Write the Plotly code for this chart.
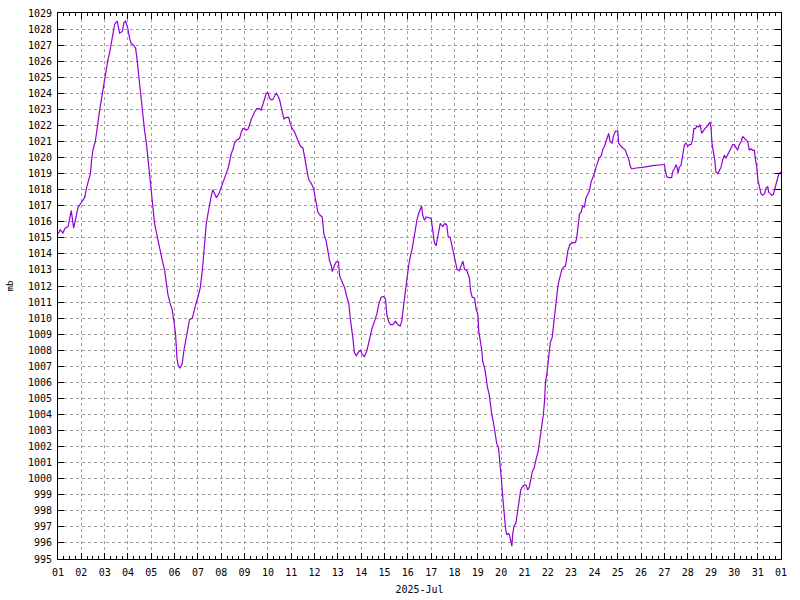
import plotly.graph_objects as go

# Fractional day of July 2025 (1.0 = 01 Jul 00:00, 32.0 = 01 Aug 00:00)
day = [
    1.00, 1.10, 1.21, 1.30, 1.43, 1.57, 1.67, 1.76, 1.86, 2.00, 2.14, 2.24, 2.33, 2.39, 2.43,
    2.50, 2.60, 2.64, 2.71, 2.79, 2.86, 2.93, 3.00, 3.07, 3.14, 3.21, 3.29, 3.36, 3.43,
    3.54, 3.64, 3.76, 3.83, 3.90, 4.00, 4.07, 4.14, 4.24, 4.33, 4.39, 4.47, 4.53, 4.59,
    4.64, 4.71, 4.79, 4.86, 4.93, 5.00, 5.07, 5.14, 5.21, 5.29, 5.39, 5.47, 5.57, 5.64,
    5.71, 5.81, 5.90, 5.97, 6.04, 6.10, 6.16, 6.24, 6.33, 6.40, 6.50, 6.57, 6.64, 6.76,
    6.86, 6.93, 7.00, 7.10, 7.19, 7.24, 7.30, 7.36, 7.43, 7.50, 7.57, 7.64, 7.71, 7.79,
    7.90, 8.00, 8.07, 8.14, 8.21, 8.29, 8.36, 8.43, 8.50, 8.57, 8.67, 8.79, 8.86, 8.93,
    9.00, 9.07, 9.16, 9.21, 9.29, 9.36, 9.43, 9.53, 9.64, 9.71, 9.79, 9.86, 9.93, 10.00,
    10.07, 10.14, 10.21, 10.29, 10.36, 10.43, 10.50, 10.60, 10.69, 10.79, 10.89, 10.96,
    11.04, 11.14, 11.24, 11.33, 11.40, 11.50, 11.57, 11.64, 11.71, 11.76, 11.86, 11.96,
    12.04, 12.14, 12.24, 12.33, 12.40, 12.50, 12.57, 12.64, 12.71, 12.76, 12.86, 12.93,
    13.03, 13.07, 13.17, 13.29, 13.39, 13.47, 13.53, 13.59, 13.64, 13.71, 13.79, 13.89,
    13.97, 14.04, 14.14, 14.24, 14.31, 14.39, 14.47, 14.57, 14.67, 14.76, 14.86, 14.96,
    15.04, 15.10, 15.17, 15.26, 15.36, 15.47, 15.57, 15.67, 15.74, 15.81, 15.89, 15.96,
    16.03, 16.10, 16.17, 16.24, 16.31, 16.39, 16.46, 16.53, 16.59, 16.64, 16.71, 16.79,
    16.90, 17.00, 17.07, 17.14, 17.21, 17.29, 17.39, 17.50, 17.59, 17.67, 17.73, 17.81,
    17.90, 17.97, 18.04, 18.11, 18.21, 18.29, 18.36, 18.43, 18.53, 18.64, 18.69, 18.76,
    18.86, 18.93, 19.00, 19.04, 19.11, 19.17, 19.21, 19.29, 19.36, 19.41, 19.49, 19.56,
    19.60, 19.67, 19.74, 19.81, 19.89, 19.96, 20.01, 20.06, 20.10, 20.14, 20.19, 20.24,
    20.31, 20.36, 20.43, 20.46, 20.50, 20.56, 20.63, 20.67, 20.73, 20.79, 20.84, 20.91,
    20.99, 21.07, 21.14, 21.21, 21.29, 21.34, 21.41, 21.47, 21.53, 21.59, 21.64, 21.70,
    21.76, 21.81, 21.86, 21.90, 21.96, 22.01, 22.06, 22.11, 22.19, 22.23, 22.27, 22.31,
    22.36, 22.41, 22.46, 22.53, 22.60, 22.67, 22.76, 22.81, 22.86, 22.96, 23.07, 23.19,
    23.24, 23.30, 23.36, 23.43, 23.50, 23.57, 23.64, 23.71, 23.79, 23.86, 23.93, 24.00,
    24.07, 24.14, 24.21, 24.29, 24.36, 24.43, 24.50, 24.57, 24.61, 24.67, 24.76, 24.81,
    24.90, 25.00, 25.04, 25.14, 25.24, 25.33, 25.40, 25.47, 25.53, 25.59, 25.64, 25.79,
    26.14, 26.50, 26.86, 27.00, 27.04, 27.10, 27.21, 27.31, 27.36, 27.43, 27.50, 27.54,
    27.59, 27.64, 27.71, 27.79, 27.86, 27.93, 28.00, 28.07, 28.14, 28.21, 28.26, 28.33,
    28.39, 28.46, 28.53, 28.60, 28.67, 28.74, 28.81, 28.89, 28.96, 29.00, 29.04, 29.10,
    29.16, 29.21, 29.29, 29.36, 29.43, 29.50, 29.57, 29.64, 29.71, 29.79, 29.86, 29.93,
    30.00, 30.07, 30.14, 30.21, 30.29, 30.36, 30.43, 30.50, 30.57, 30.64, 30.71, 30.79,
    30.86, 30.90, 30.96, 31.01, 31.07, 31.14, 31.21, 31.29, 31.36, 31.43, 31.47, 31.54,
    31.60, 31.67, 31.73, 31.79, 31.84, 31.90, 31.96, 32.00,
]

# Barometric pressure (mb)
mb = [
    1015.25, 1015.5, 1015.3, 1015.6, 1015.7, 1016.7, 1015.6, 1016.3, 1016.9, 1017.2, 1017.5, 1018.2, 1018.6, 1019.0, 1019.7,
    1020.5, 1021.0, 1021.5, 1022.0, 1023.0, 1023.6, 1024.3, 1025.0, 1025.6, 1026.1, 1026.5, 1027.1, 1027.75, 1028.3,
    1028.5, 1027.75, 1027.85, 1028.4, 1028.5, 1028.0, 1027.4, 1027.1, 1027.0, 1026.8, 1026.1, 1025.0, 1024.2, 1023.6,
    1022.5, 1021.7, 1020.9, 1019.8, 1019.2, 1018.0, 1016.7, 1015.9, 1015.4, 1014.8, 1014.2, 1013.6, 1013.0, 1012.3,
    1011.5, 1010.9, 1010.5, 1009.8, 1009.0, 1007.5, 1007.0, 1006.9, 1007.2, 1008.0, 1008.8, 1009.4, 1009.9, 1010.0,
    1010.7, 1011.0, 1011.3, 1011.9, 1013.0, 1013.8, 1015.0, 1015.9, 1016.5, 1017.1, 1017.6, 1018.0, 1017.75, 1017.5,
    1017.75, 1018.2, 1018.5, 1018.8, 1019.0, 1019.3, 1019.8, 1020.25, 1020.5, 1020.9, 1021.1, 1021.2, 1021.6, 1021.8,
    1021.8, 1021.7, 1021.8, 1022.1, 1022.4, 1022.6, 1022.85, 1023.05, 1023.05, 1022.95, 1023.3, 1023.7, 1024.0, 1024.05,
    1023.7, 1023.6, 1023.6, 1023.85, 1024.0, 1023.85, 1023.6, 1022.95, 1022.4, 1022.5, 1022.5, 1022.1,
    1021.8, 1021.6, 1021.2, 1020.9, 1020.7, 1020.6, 1020.05, 1019.4, 1018.9, 1018.6, 1018.4, 1018.05,
    1017.3, 1016.6, 1016.4, 1016.3, 1015.25, 1014.8, 1014.2, 1013.6, 1013.3, 1012.9, 1013.3, 1013.5,
    1013.5, 1012.65, 1012.3, 1011.9, 1011.3, 1010.9, 1010.0, 1009.4, 1008.8, 1007.85, 1007.65, 1007.9,
    1008.0, 1007.75, 1007.6, 1007.95, 1008.4, 1008.9, 1009.4, 1009.8, 1010.25, 1010.9, 1011.3, 1011.35,
    1011.2, 1010.25, 1009.8, 1009.6, 1009.6, 1009.8, 1009.6, 1009.5, 1009.8, 1010.7, 1011.7, 1012.3,
    1013.2, 1013.8, 1014.2, 1014.8, 1015.45, 1016.1, 1016.5, 1016.8, 1017.0, 1016.4, 1016.1, 1016.3,
    1016.25, 1016.2, 1015.45, 1014.7, 1014.5, 1015.25, 1015.9, 1015.7, 1015.9, 1015.8, 1015.05, 1015.05,
    1014.4, 1014.0, 1013.6, 1013.05, 1012.95, 1013.3, 1013.55, 1013.05, 1012.95, 1012.5, 1011.7, 1011.3,
    1011.25, 1010.55, 1010.25, 1009.2, 1008.6, 1008.0, 1007.3, 1006.9, 1006.3, 1005.7, 1005.25, 1004.4,
    1004.0, 1003.5, 1002.75, 1002.2, 1001.9, 1000.9, 1000.0, 999.0, 998.4, 997.5, 996.9, 996.5,
    996.6, 996.5, 996.1, 995.8, 996.6, 997.1, 997.2, 997.75, 998.2, 998.8, 999.3, 999.5,
    999.6, 999.6, 999.3, 999.5, 1000.0, 1000.45, 1000.65, 1001.1, 1001.4, 1001.7, 1002.2, 1003.0,
    1003.6, 1004.0, 1004.8, 1006.0, 1006.5, 1007.1, 1007.95, 1008.5, 1008.8, 1009.4, 1009.9, 1010.45,
    1011.1, 1011.7, 1012.2, 1012.65, 1013.0, 1013.15, 1013.25, 1013.7, 1014.2, 1014.6, 1014.7, 1014.7,
    1015.0, 1015.7, 1016.5, 1016.6, 1017.0, 1016.9, 1017.5, 1017.7, 1017.95, 1018.5, 1018.7, 1019.0,
    1019.4, 1019.7, 1020.0, 1020.1, 1020.5, 1020.7, 1021.0, 1021.2, 1021.5, 1021.0, 1020.9, 1021.3,
    1021.65, 1021.65, 1020.9, 1020.7, 1020.55, 1020.45, 1020.15, 1019.9, 1019.5, 1019.3, 1019.3, 1019.35,
    1019.4, 1019.5, 1019.55, 1019.55, 1019.2, 1018.8, 1018.75, 1018.75, 1019.15, 1019.3, 1019.55, 1019.4,
    1019.05, 1019.4, 1019.5, 1020.15, 1020.8, 1020.9, 1020.7, 1020.8, 1020.8, 1021.1, 1021.8, 1021.8,
    1021.95, 1021.9, 1022.05, 1021.5, 1021.7, 1021.8, 1021.9, 1022.1, 1022.2, 1021.9, 1020.9, 1020.35,
    1019.85, 1019.1, 1019.0, 1019.2, 1019.4, 1019.85, 1020.15, 1019.95, 1020.15, 1020.45, 1020.65, 1020.8,
    1020.8, 1020.65, 1020.45, 1020.8, 1021.0, 1021.3, 1021.2, 1021.1, 1021.0, 1020.45, 1020.55, 1020.45,
    1020.45, 1019.95, 1019.4, 1018.6, 1018.1, 1017.75, 1017.65, 1017.75, 1018.1, 1018.2, 1017.85, 1017.75,
    1017.65, 1017.7, 1018.05, 1018.4, 1018.75, 1018.95, 1019.05, 1019.1,
]

x_tick_vals = list(range(1, 33))
x_tick_text = ["%02d" % d for d in range(1, 32)] + ["01"]
y_tick_vals = list(range(995, 1030))

FONT = "DejaVu Sans Mono, Liberation Mono, monospace"

fig = go.Figure()
fig.add_trace(go.Scatter(
    x=day, y=mb, mode="lines",
    line=dict(color="#9400d3", width=1.2),
    showlegend=False, hoverinfo="skip",
))

fig.update_layout(
    width=800, height=600, autosize=False,
    margin=dict(l=58, r=19, t=13, b=41),
    paper_bgcolor="white", plot_bgcolor="white",
    font=dict(family=FONT, size=10, color="black"),
)

grid = dict(showgrid=True, gridcolor="#a0a0a0", griddash="3px,3px", gridwidth=1)

fig.update_xaxes(
    range=[1, 32], tickmode="array", tickvals=x_tick_vals, ticktext=x_tick_text,
    ticks="inside", ticklen=6, tickcolor="black", tickwidth=1,
    showline=True, linecolor="black", linewidth=1, mirror="ticks",
    minor=dict(dtick=0.25, tick0=1, ticks="inside", ticklen=3, tickcolor="black", showgrid=False),
    zeroline=False, tickfont=dict(family=FONT, size=10), automargin=False,
    ticklabelstandoff=4,
    title=dict(text="2025-Jul", font=dict(family=FONT, size=10), standoff=8),
    **grid,
)
fig.update_yaxes(
    range=[995, 1029], tickmode="array", tickvals=y_tick_vals,
    ticktext=[str(v) for v in y_tick_vals],
    ticks="inside", ticklen=6, tickcolor="black", tickwidth=1,
    showline=True, linecolor="black", linewidth=1, mirror="ticks",
    zeroline=False, tickfont=dict(family=FONT, size=10), ticklabelstandoff=3,
    automargin=False,
    title=dict(text="mb", font=dict(family=FONT, size=9), standoff=12),
    **grid,
)

fig.write_html(
    "out.html",
    config={"displayModeBar": False},
    post_script="document.body.style.margin='0';document.body.style.padding='0';",
)
